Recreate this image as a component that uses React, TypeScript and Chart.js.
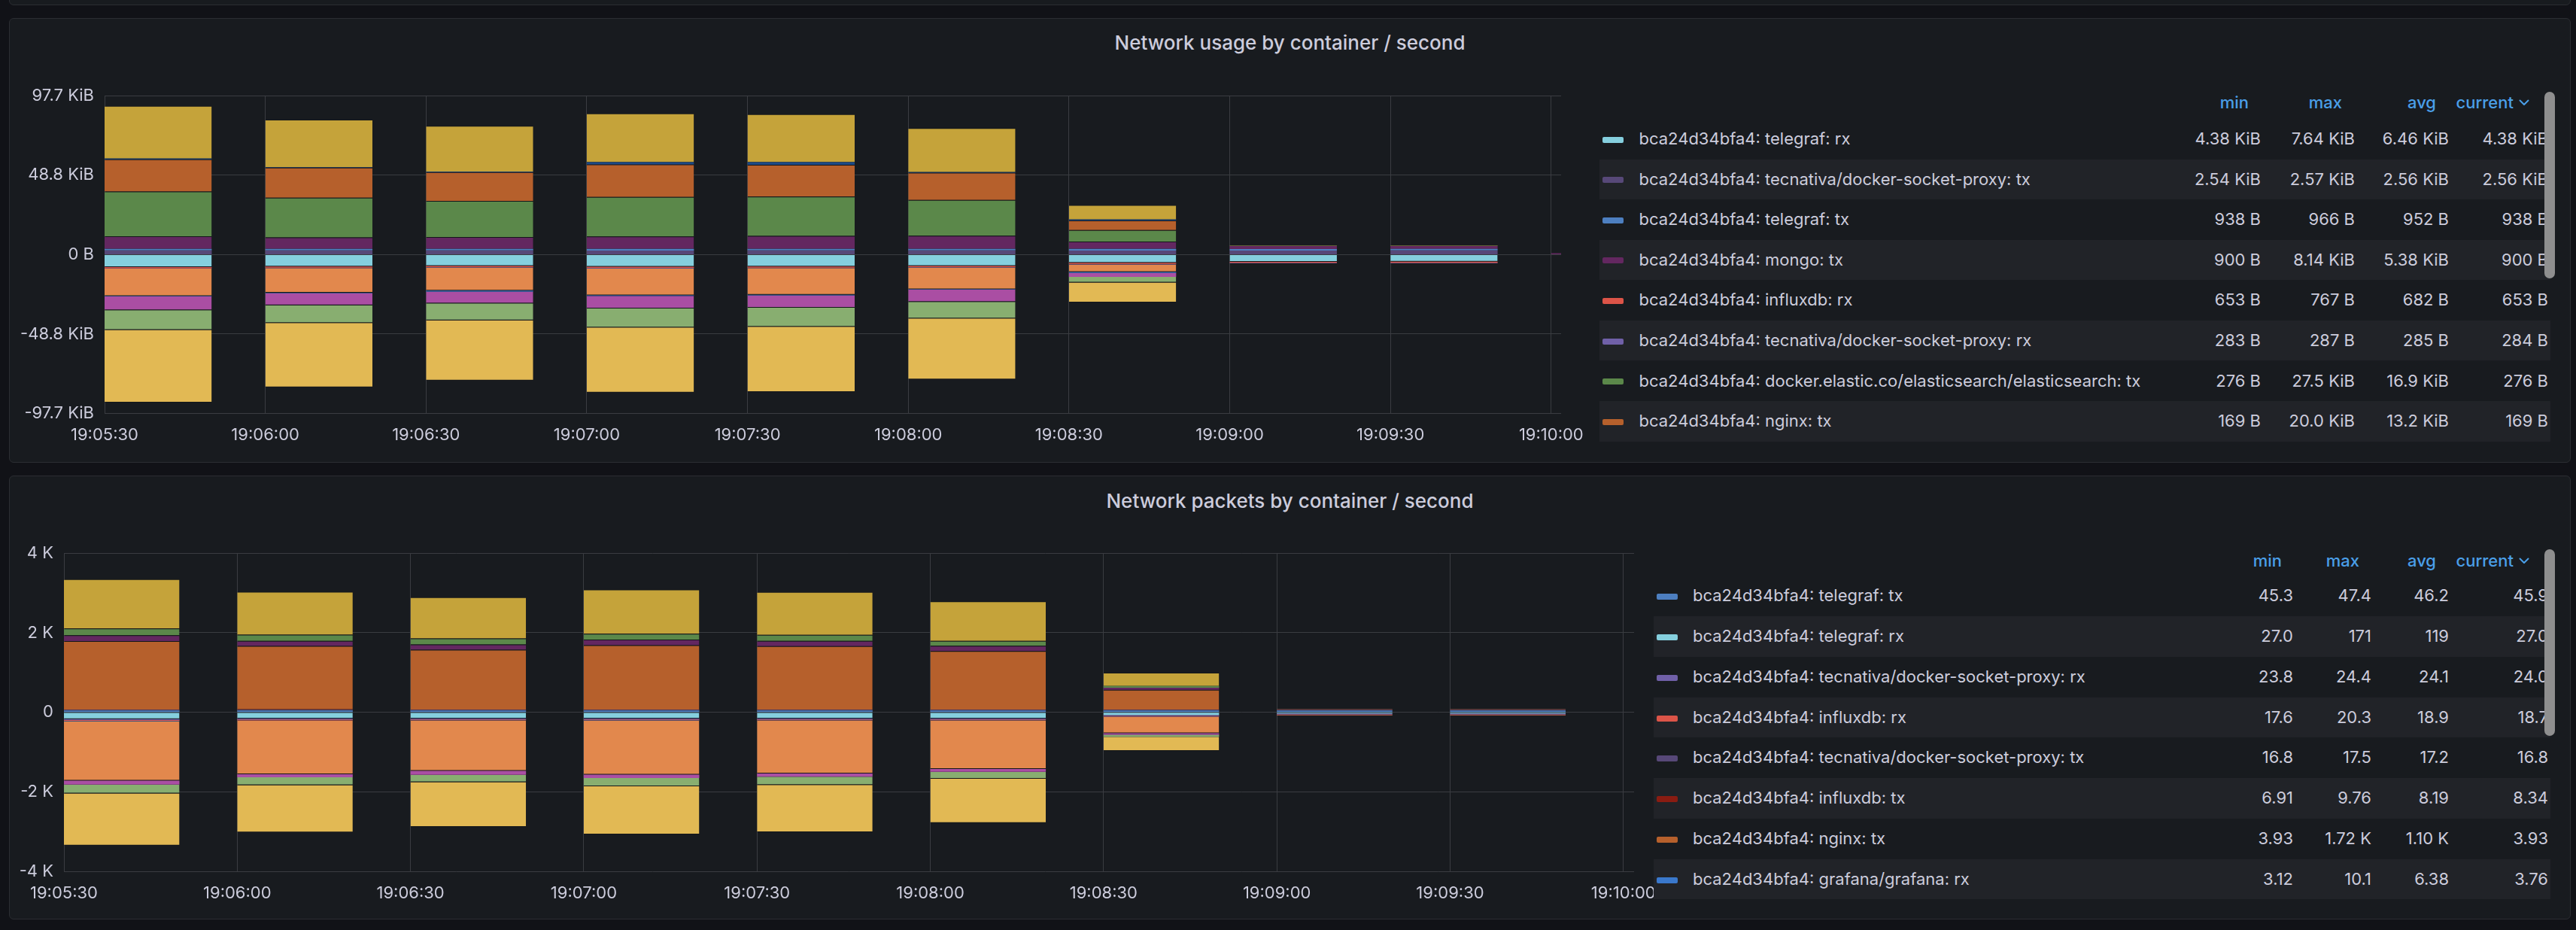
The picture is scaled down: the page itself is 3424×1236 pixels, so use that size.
import React, { useEffect, useRef } from "react";
import { Chart, registerables } from "chart.js";

Chart.register(...registerables);

// ---------------- data ----------------
const xTickLabels = ["19:05:30", "19:06:00", "19:06:30", "19:07:00", "19:07:30", "19:08:00", "19:08:30", "19:09:00", "19:09:30", "19:10:00"];
const rangeEnd = "19:10:01.85";
const HOST = "bca24d34bfa4";

// Network usage (KiB/s); tx drawn above zero, rx below zero
const usageTimes = ["19:05:30", "19:06:00", "19:06:30", "19:07:00", "19:07:30", "19:08:00", "19:08:30", "19:09:00", "19:09:30", "19:10:00"];
const uTecnativaTx = [2.56, 2.57, 2.56, 2.55, 2.56, 2.56, 2.55, 2.54, 2.56, null];
const uTelegrafTx = [0.95, 0.96, 0.95, 0.94, 0.95, 0.96, 0.94, 0.93, 0.92, null];
const uMongoTx = [7.8, 7.1, 7.3, 7.7, 8.0, 8.14, 4.5, 1.8, 1.8, 0.88];
const uElasticTx = [27.5, 24.4, 22.2, 24.2, 24.2, 21.9, 7.1, 0.28, 0.27, null];
const uNginxTx = [19.7, 18.4, 17.7, 20.0, 19.5, 16.8, 5.9, 0.17, 0.17, null];
const uGrafanaTx = [0.5, 0.3, 0.3, 1.45, 1.6, 0.3, 0.6, 0, 0, null];
const uKibanaTx = [32.4, 29.2, 28.1, 29.9, 29.5, 27.1, 8.9, 0, 0, null];
const uTelegrafRx = [7.64, 7.3, 7.0, 7.4, 7.3, 7.0, 5.0, 4.4, 4.38, null];
const uInfluxRx = [0.7, 0.68, 0.67, 0.75, 0.68, 0.67, 0.75, 0.65, 0.65, null];
const uTecnativaRx = [0.28, 0.28, 0.29, 0.28, 0.28, 0.29, 0.28, 0.28, 0.28, null];
const uNginxRx = [16.8, 15.1, 14.2, 16.6, 16.4, 13.3, 4.6, 0, 0, null];
const uGrafanaRx = [0.3, 0.3, 0.5, 0.3, 0.3, 0.3, 0.6, 0, 0, null];
const uMongoRx = [8.4, 7.5, 7.3, 7.8, 7.7, 7.5, 2.5, 0, 0, null];
const uElasticRx = [12.2, 10.9, 10.4, 11.7, 11.7, 10.2, 3.4, 0, 0, null];
const uKibanaRx = [44.6, 39.5, 37.0, 39.9, 40.1, 37.4, 12.3, 0, 0, null];

// Network packets (packets/s)
const packetTimes = ["19:05:30", "19:06:00", "19:06:30", "19:07:00", "19:07:30", "19:08:00", "19:08:30", "19:09:00", "19:09:30"];
const pTelegrafTx = [46.5, 47.4, 46.0, 46.8, 46.2, 45.8, 46.5, 45.3, 45.9];
const pTecnativaTx = [17.3, 17.5, 17.2, 17.1, 17.4, 17.2, 17.3, 16.9, 16.8];
const pInfluxTx = [8.0, 9.76, 7.5, 8.2, 7.9, 8.4, 6.91, 8.5, 8.34];
const pNginxTx = [1720, 1593, 1504, 1615, 1593, 1467, 497, 4.1, 3.93];
const pMongoTx = [148, 126, 133, 141, 133, 133, 50, 4, 4];
const pElasticTx = [170, 156, 148, 148, 148, 126, 44, 3, 3];
const pKibanaTx = [1237, 1081, 1037, 1111, 1081, 993, 334, 0, 0];
const pTelegrafRx = [171, 158, 156, 158, 156, 155, 68, 27.0, 27.0];
const pTecnativaRx = [24.1, 24.2, 24.4, 24.0, 24.1, 24.2, 24.0, 23.8, 24.0];
const pInfluxRx = [19.2, 20.3, 18.5, 19.1, 18.8, 18.9, 17.6, 18.9, 18.7];
const pGrafanaRx = [8.2, 7.0, 6.5, 7.2, 6.9, 6.3, 10.1, 3.12, 3.76];
const pNginxRx = [1496, 1348, 1267, 1356, 1333, 1222, 408, 3, 3];
const pMongoRx = [96, 74, 96, 89, 81, 67, 38, 2, 2];
const pElasticRx = [222, 200, 185, 207, 207, 178, 51, 2, 2];
const pKibanaRx = [1311, 1185, 1126, 1207, 1185, 1111, 353, 0, 0];

// y ticks
const usageYTicks = [-97.65625, -48.828125, 0, 48.828125, 97.65625];
const packetYTicks = [-4000, -2000, 0, 2000, 4000];

// legends (values as shown)
const usageLegendKeys = ["telegrafRx", "tecnativaTx", "telegrafTx", "mongoTx", "influxRx", "tecnativaRx", "elasticTx", "nginxTx"];
const usageMin = ["4.38 KiB", "2.54 KiB", "938 B", "900 B", "653 B", "283 B", "276 B", "169 B"];
const usageMax = ["7.64 KiB", "2.57 KiB", "966 B", "8.14 KiB", "767 B", "287 B", "27.5 KiB", "20.0 KiB"];
const usageAvg = ["6.46 KiB", "2.56 KiB", "952 B", "5.38 KiB", "682 B", "285 B", "16.9 KiB", "13.2 KiB"];
const usageCur = ["4.38 KiB", "2.56 KiB", "938 B", "900 B", "653 B", "284 B", "276 B", "169 B"];

const packetLegendKeys = ["telegrafTx", "telegrafRx", "tecnativaRx", "influxRx", "tecnativaTx", "influxTx", "nginxTx", "grafanaRx"];
const packetMin = ["45.3", "27.0", "23.8", "17.6", "16.8", "6.91", "3.93", "3.12"];
const packetMax = ["47.4", "171", "24.4", "20.3", "17.5", "9.76", "1.72 K", "10.1"];
const packetAvg = ["46.2", "119", "24.1", "18.9", "17.2", "8.19", "1.10 K", "6.38"];
const packetCur = ["45.9", "27.0", "24.0", "18.7", "16.8", "8.34", "3.93", "3.76"];

// ---------------- styles ----------------
const NAMES: Record<string, string> = {
  telegrafRx: "telegraf: rx", telegrafTx: "telegraf: tx",
  tecnativaRx: "tecnativa/docker-socket-proxy: rx", tecnativaTx: "tecnativa/docker-socket-proxy: tx",
  mongoRx: "mongo: rx", mongoTx: "mongo: tx",
  influxRx: "influxdb: rx", influxTx: "influxdb: tx",
  elasticRx: "docker.elastic.co/elasticsearch/elasticsearch: rx", elasticTx: "docker.elastic.co/elasticsearch/elasticsearch: tx",
  nginxRx: "nginx: rx", nginxTx: "nginx: tx",
  grafanaRx: "grafana/grafana: rx", grafanaTx: "grafana/grafana: tx",
  kibanaRx: "docker.elastic.co/kibana/kibana: rx", kibanaTx: "docker.elastic.co/kibana/kibana: tx",
};
const COLORS: Record<string, string> = {
  telegrafRx: "#85cfde", telegrafTx: "#4d7fc0",
  tecnativaRx: "#7060a8", tecnativaTx: "#574878",
  mongoRx: "#aa4ea3", mongoTx: "#632760",
  influxRx: "#dc5448", influxTx: "#8a1c12",
  elasticRx: "#88ae70", elasticTx: "#5b884a",
  nginxRx: "#e2884d", nginxTx: "#b6602c",
  grafanaRx: "#3a78cc", grafanaTx: "#1d4a86",
  kibanaRx: "#e2b954", kibanaTx: "#c5a33a",
};

const FONT = "Inter, 'Noto Sans', 'DejaVu Sans', sans-serif";
const TEXT = "#ccccdc";
const GRID = "#3a3c41";
const PAGE_BG = "#111217";
const PANEL_BG = "#181b1f";
const PANEL_BORDER = "#2b2d32";
const ROW_BG = "#212328";
const HEAD = "#4a9fe8";

const BAR_INTERVAL = 30;
const BAR_FRACTION = 2 / 3;

function toSec(t: string) {
  const [h, m, s] = t.split(":").map(Number);
  return h * 3600 + m * 60 + s;
}
const T0 = toSec(xTickLabels[0]);

type Layer = { key: string; values: (number | null)[]; dir: 1 | -1 };

const usageLayers: Layer[] = [
  { key: "tecnativaTx", values: uTecnativaTx, dir: 1 },
  { key: "telegrafTx", values: uTelegrafTx, dir: 1 },
  { key: "mongoTx", values: uMongoTx, dir: 1 },
  { key: "elasticTx", values: uElasticTx, dir: 1 },
  { key: "nginxTx", values: uNginxTx, dir: 1 },
  { key: "grafanaTx", values: uGrafanaTx, dir: 1 },
  { key: "kibanaTx", values: uKibanaTx, dir: 1 },
  { key: "telegrafRx", values: uTelegrafRx, dir: -1 },
  { key: "influxRx", values: uInfluxRx, dir: -1 },
  { key: "tecnativaRx", values: uTecnativaRx, dir: -1 },
  { key: "nginxRx", values: uNginxRx, dir: -1 },
  { key: "grafanaRx", values: uGrafanaRx, dir: -1 },
  { key: "mongoRx", values: uMongoRx, dir: -1 },
  { key: "elasticRx", values: uElasticRx, dir: -1 },
  { key: "kibanaRx", values: uKibanaRx, dir: -1 },
];

const packetLayers: Layer[] = [
  { key: "telegrafTx", values: pTelegrafTx, dir: 1 },
  { key: "tecnativaTx", values: pTecnativaTx, dir: 1 },
  { key: "influxTx", values: pInfluxTx, dir: 1 },
  { key: "nginxTx", values: pNginxTx, dir: 1 },
  { key: "mongoTx", values: pMongoTx, dir: 1 },
  { key: "elasticTx", values: pElasticTx, dir: 1 },
  { key: "kibanaTx", values: pKibanaTx, dir: 1 },
  { key: "telegrafRx", values: pTelegrafRx, dir: -1 },
  { key: "tecnativaRx", values: pTecnativaRx, dir: -1 },
  { key: "influxRx", values: pInfluxRx, dir: -1 },
  { key: "grafanaRx", values: pGrafanaRx, dir: -1 },
  { key: "nginxRx", values: pNginxRx, dir: -1 },
  { key: "mongoRx", values: pMongoRx, dir: -1 },
  { key: "elasticRx", values: pElasticRx, dir: -1 },
  { key: "kibanaRx", values: pKibanaRx, dir: -1 },
];

const NO_BORDER = { top: 0, right: 0, bottom: 0, left: 0 };

function makeDatasets(times: string[], layers: Layer[], yMax: number) {
  return layers.map((l) => ({
    label: `${HOST}: ${NAMES[l.key]}`,
    data: l.values.flatMap((v, i) => (v == null ? [] : [{ x: toSec(times[i]) - T0, y: l.dir * v }])),
    backgroundColor: COLORS[l.key],
    borderColor: "rgba(0,0,0,0.18)",
    // a thin edge line at the value end, only on segments tall enough to show it
    borderWidth: (ctx: any) => {
      const raw = ctx.raw as { y: number } | undefined;
      if (!raw || Math.abs(raw.y) < yMax * 0.03) return NO_BORDER;
      return l.dir > 0 ? { top: 1, right: 0, bottom: 0, left: 0 } : { top: 0, right: 0, bottom: 1, left: 0 };
    },
    borderSkipped: false,
    xAxisID: "xb",
    yAxisID: "y",
    stack: "all",
    barPercentage: BAR_FRACTION,
    categoryPercentage: 1,
    clip: 0,
  }));
}

type Frame = { x: number; y: number; w: number; h: number; yWidth: number; xHeight: number; padTop: number; padRight: number };

function BarChart(props: { frame: Frame; times: string[]; layers: Layer[]; yTicks: number[]; yFormat: (v: number) => string }) {
  const { frame, times, layers, yTicks, yFormat } = props;
  const ref = useRef<HTMLCanvasElement | null>(null);
  useEffect(() => {
    const shift = (BAR_INTERVAL * BAR_FRACTION) / 2;
    const xMax = toSec(rangeEnd) - T0;
    const xTicks = xTickLabels.map((l) => toSec(l) - T0);
    const barTicks = times.map((t) => toSec(t) - T0);
    const tickFont = { family: FONT, size: 22 };
    const yMax = yTicks[yTicks.length - 1];
    const chart = new Chart(ref.current as HTMLCanvasElement, {
      type: "bar",
      data: { datasets: makeDatasets(times, layers, yMax) as any },
      options: {
        animation: false,
        responsive: false,
        maintainAspectRatio: false,
        layout: { padding: { left: 0, right: frame.padRight, top: frame.padTop, bottom: 0 } },
        plugins: { legend: { display: false }, tooltip: { enabled: false }, title: { display: false } },
        scales: {
          x: {
            type: "linear",
            position: "bottom",
            min: 0,
            max: xMax,
            offset: false,
            grid: { color: GRID, lineWidth: 1, drawTicks: false, offset: false },
            border: { display: false },
            afterBuildTicks: (s: any) => {
              s.ticks = xTicks.map((v) => ({ value: v }));
            },
            afterFit: (s: any) => {
              s.height = frame.xHeight;
              s.paddingLeft = 0;
              s.paddingRight = 0;
            },
            ticks: {
              color: TEXT,
              font: tickFont,
              padding: 16,
              maxRotation: 0,
              minRotation: 0,
              autoSkip: false,
              callback: (_v: any, i: number) => xTickLabels[i],
            },
          } as any,
          xb: {
            type: "linear",
            position: "bottom",
            display: false,
            min: -shift,
            max: xMax - shift,
            offset: false,
            stacked: true,
            grid: { offset: false },
            afterBuildTicks: (s: any) => {
              s.ticks = barTicks.map((v) => ({ value: v }));
            },
          } as any,
          y: {
            type: "linear",
            position: "left",
            stacked: true,
            min: yTicks[0],
            max: yMax,
            grid: { color: GRID, lineWidth: 1, drawTicks: false },
            border: { display: false },
            afterBuildTicks: (s: any) => {
              s.ticks = yTicks.map((v) => ({ value: v }));
            },
            afterFit: (s: any) => {
              s.width = frame.yWidth;
            },
            ticks: {
              color: TEXT,
              font: tickFont,
              padding: 14,
              callback: (v: any) => yFormat(Number(v)),
            },
          } as any,
        },
      },
    });
    return () => chart.destroy();
  }, []);
  return (
    <canvas
      ref={ref}
      width={frame.w}
      height={frame.h}
      style={{ position: "absolute", left: frame.x, top: frame.y, width: frame.w, height: frame.h, zIndex: 1 }}
    />
  );
}

type LegendGeom = {
  x: number; y: number; w: number; h: number;
  headerY: number; rowTop: number; rowH: number;
  swatchLeft: number; labelLeft: number;
  valRights: number[]; headRights: number[];
  thumbX: number; thumbTop: number; thumbBottom: number;
};

function Chevron() {
  return (
    <svg width="14" height="9" viewBox="0 0 14 9" style={{ display: "block", marginLeft: 7 }}>
      <polyline points="1.5,1.5 7,7 12.5,1.5" fill="none" stroke={HEAD} strokeWidth="2" strokeLinecap="round" strokeLinejoin="round" />
    </svg>
  );
}

function Legend(props: { g: LegendGeom; keys: string[]; cols: string[][] }) {
  const { g, keys, cols } = props;
  const heads = ["min", "max", "avg", "current"];
  return (
    <>
      <div style={{ position: "absolute", left: g.x, top: g.y, width: g.w, height: g.h, background: PANEL_BG, zIndex: 2, fontFamily: FONT, fontSize: 22, color: TEXT }}>
        {heads.map((h, i) => (
          <div
            key={h}
            style={{
              position: "absolute",
              right: g.headRights[i],
              top: g.headerY - 15,
              height: 30,
              lineHeight: "30px",
              color: HEAD,
              fontWeight: 500,
              display: "flex",
              alignItems: "center",
              whiteSpace: "nowrap",
            }}
          >
            <span>{h}</span>
            {h === "current" ? <Chevron /> : null}
          </div>
        ))}
        {keys.map((k, r) => (
          <div
            key={k}
            style={{
              position: "absolute",
              left: 0,
              width: g.w,
              top: g.rowTop + r * g.rowH,
              height: g.rowH,
              background: r % 2 === 1 ? ROW_BG : "transparent",
            }}
          >
            <div style={{ position: "absolute", left: g.swatchLeft, top: g.rowH / 2 - 3, width: 28, height: 8, borderRadius: 2, background: COLORS[k] }} />
            <div style={{ position: "absolute", left: g.labelLeft, top: 0, height: g.rowH, lineHeight: `${g.rowH}px`, whiteSpace: "nowrap" }}>
              {`${HOST}: ${NAMES[k]}`}
            </div>
            {cols.map((col, c) => (
              <div key={c} style={{ position: "absolute", right: g.valRights[c], top: 0, height: g.rowH, lineHeight: `${g.rowH}px`, whiteSpace: "nowrap" }}>
                {col[r]}
              </div>
            ))}
          </div>
        ))}
      </div>
      <div
        style={{
          position: "absolute",
          left: g.thumbX,
          top: g.thumbTop,
          width: 14,
          height: g.thumbBottom - g.thumbTop,
          borderRadius: 7,
          background: "#8f8f8f",
          zIndex: 3,
        }}
      />
    </>
  );
}

function Panel(props: { x: number; y: number; w: number; h: number }) {
  return (
    <div
      style={{
        position: "absolute",
        left: props.x,
        top: props.y,
        width: props.w,
        height: props.h,
        boxSizing: "border-box",
        border: `1px solid ${PANEL_BORDER}`,
        borderRadius: 6,
        background: PANEL_BG,
      }}
    />
  );
}

function Title(props: { text: string; cy: number }) {
  return (
    <div
      style={{
        position: "absolute",
        left: 12,
        width: 3405,
        top: props.cy - 16,
        height: 32,
        lineHeight: "32px",
        textAlign: "center",
        fontFamily: FONT,
        fontSize: 26,
        fontWeight: 500,
        color: TEXT,
        zIndex: 2,
        whiteSpace: "nowrap",
      }}
    >
      {props.text}
    </div>
  );
}

const usageFrame: Frame = { x: 13, y: 100, w: 2107, h: 500, yWidth: 126, xHeight: 50.4, padTop: 26.5, padRight: 45 };
const packetFrame: Frame = { x: 13, y: 708, w: 2217, h: 500, yWidth: 72, xHeight: 49.8, padTop: 26.3, padRight: 58 };

const usageLegendGeom: LegendGeom = {
  x: 2126, y: 100, w: 1264, h: 500,
  headerY: 36, rowTop: 57.9, rowH: 53.6,
  swatchLeft: 4, labelLeft: 52.5,
  valRights: [385, 260, 135, 3], headRights: [401, 277, 152, 28],
  thumbX: 3382, thumbTop: 122, thumbBottom: 370,
};
const packetLegendGeom: LegendGeom = {
  x: 2198, y: 700, w: 1192, h: 510,
  headerY: 45, rowTop: 65.4, rowH: 53.75,
  swatchLeft: 4, labelLeft: 52,
  valRights: [342, 238, 135, 3], headRights: [357, 254, 152, 28],
  thumbX: 3382, thumbTop: 730, thumbBottom: 977.5,
};

const fmtUsage = (v: number) => (v === 0 ? "0 B" : `${v.toFixed(1)} KiB`);
const fmtPackets = (v: number) => (v === 0 ? "0" : `${v / 1000} K`);

export default function App() {
  useEffect(() => {
    document.body.style.margin = "0";
    document.body.style.background = PAGE_BG;
  }, []);
  return (
    <div style={{ position: "absolute", left: 0, top: 0, width: 3424, height: 1236, background: PAGE_BG, overflow: "hidden" }}>
      <Panel x={12} y={-20} w={3405} h={27} />
      <Panel x={12} y={24} w={3405} h={591} />
      <Panel x={12} y={632} w={3405} h={590} />
      <Title text="Network usage by container / second" cy={57} />
      <Title text="Network packets by container / second" cy={666} />
      <BarChart frame={usageFrame} times={usageTimes} layers={usageLayers} yTicks={usageYTicks} yFormat={fmtUsage} />
      <BarChart frame={packetFrame} times={packetTimes} layers={packetLayers} yTicks={packetYTicks} yFormat={fmtPackets} />
      <Legend g={usageLegendGeom} keys={usageLegendKeys} cols={[usageMin, usageMax, usageAvg, usageCur]} />
      <Legend g={packetLegendGeom} keys={packetLegendKeys} cols={[packetMin, packetMax, packetAvg, packetCur]} />
    </div>
  );
}
